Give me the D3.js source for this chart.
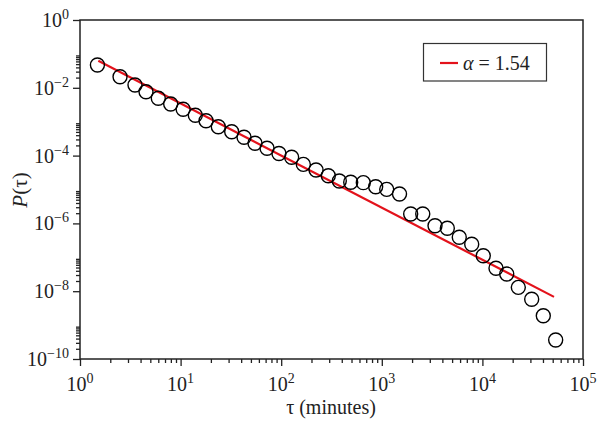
<!DOCTYPE html>
<html><head><meta charset="utf-8">
<script src="https://cdn.jsdelivr.net/npm/d3@7"></script>
<style>body{margin:0;background:#fff}</style>
</head><body>
<script>
// inter-event times (minutes) and their probability
const tau = [1.49, 2.5, 3.52, 4.53, 6.0, 7.97, 10.6, 14.0, 17.9, 23.7, 32.2, 42.7, 54.9, 72.3, 95,
  127, 166, 222, 294, 378, 491, 655, 869, 1119, 1500, 1937, 2553, 3380, 4480, 5890, 7830,
  10200, 13650, 17450, 22750, 30900, 40300, 53500];
const prob = [0.0471, 0.0212, 0.0121, 0.00767, 0.0049, 0.00333, 0.00232, 0.00155, 0.00107, 7.12e-4,
  5.07e-4, 3.47e-4, 2.31e-4, 1.64e-4, 1.15e-4, 8.9e-5, 5.5e-5, 3.76e-5, 2.55e-5, 1.78e-5, 1.63e-5,
  1.59e-5, 1.21e-5, 1.01e-5, 7.37e-6, 1.89e-6, 1.89e-6, 8.55e-7, 7.16e-7, 3.89e-7, 2.42e-7,
  1.11e-7, 4.74e-8, 3.21e-8, 1.30e-8, 5.77e-9, 1.89e-9, 3.63e-10];
// fitted power law, endpoints of the red line
const fitTau = [1.52, 51500];
const fitProb = [0.063, 6.8e-9];
const alphaLabel = '1.54';
const xTickExps = [0, 1, 2, 3, 4, 5];
const yTickExps = [0, -2, -4, -6, -8, -10];

const W = 609, H = 430;
const font = '"Liberation Serif", "DejaVu Serif", serif';

const svg = d3.select('body').append('svg')
  .attr('width', W)
  .attr('height', H)
  .style('font-family', font);

const x = d3.scaleLog().domain([1, 1e5]).range([80, 583]);
const y = d3.scaleLog().domain([1e-10, 1]).range([359, 20]);

const xMinor = [], yMinor = [];
xTickExps.slice(0, -1).forEach(e => { for (let k = 2; k <= 9; k++) xMinor.push(k * Math.pow(10, e)); });
yTickExps.slice(1).forEach(e => { for (let k = 2; k <= 9; k++) yMinor.push(k * Math.pow(10, e)); });

const styleAxis = g => {
  g.select('.domain').remove();
  g.selectAll('line').attr('stroke', '#222').attr('stroke-width', 1.3);
};

svg.append('g').attr('transform', 'translate(0,359)')
  .call(d3.axisBottom(x).tickValues(xMinor).tickSize(4).tickFormat(''))
  .call(styleAxis);
svg.append('g').attr('transform', 'translate(0,359)')
  .call(d3.axisBottom(x).tickValues(xTickExps.map(e => Math.pow(10, e))).tickSize(7).tickFormat(''))
  .call(styleAxis);
svg.append('g').attr('transform', 'translate(80,0)')
  .call(d3.axisLeft(y).tickValues(yMinor).tickSize(4).tickFormat(''))
  .call(styleAxis);
svg.append('g').attr('transform', 'translate(80,0)')
  .call(d3.axisLeft(y).tickValues(yTickExps.map(e => Math.pow(10, e))).tickSize(7).tickFormat(''))
  .call(styleAxis);

// frame
svg.append('rect')
  .attr('x', 80).attr('y', 20)
  .attr('width', 503).attr('height', 339)
  .attr('fill', 'none')
  .attr('stroke', '#222')
  .attr('stroke-width', 1.5);

// tick labels with superscripts
const xl = svg.append('g').selectAll('text')
  .data(xTickExps)
  .enter().append('text')
  .attr('x', d => x(Math.pow(10, d)))
  .attr('y', 391)
  .attr('text-anchor', 'middle')
  .attr('font-size', 20)
  .attr('fill', '#222');
xl.append('tspan').text('10');
xl.append('tspan').attr('dy', -8).attr('font-size', 14).text(d => d);

const yl = svg.append('g').selectAll('text')
  .data(yTickExps)
  .enter().append('text')
  .attr('x', 69)
  .attr('y', d => y(Math.pow(10, d)) + 7)
  .attr('text-anchor', 'end')
  .attr('font-size', 20)
  .attr('fill', '#222');
yl.append('tspan').text('10');
yl.append('tspan').attr('dy', -8).attr('font-size', 14).text(d => d === 0 ? '0' : '\u2212' + (-d));

// axis titles
svg.append('text')
  .attr('x', 331).attr('y', 414)
  .attr('text-anchor', 'middle')
  .attr('font-size', 20)
  .attr('fill', '#222')
  .text('\u03c4 (minutes)');

const yt = svg.append('text')
  .attr('transform', 'translate(27,190) rotate(-90)')
  .attr('text-anchor', 'middle')
  .attr('font-size', 21)
  .attr('fill', '#222');
yt.append('tspan').attr('font-style', 'italic').text('P');
yt.append('tspan').text('(\u03c4)');

// fit line
const line = d3.line().x(d => x(d[0])).y(d => y(d[1]));
svg.append('path')
  .attr('d', line(d3.zip(fitTau, fitProb)))
  .attr('fill', 'none')
  .attr('stroke', '#e3121b')
  .attr('stroke-width', 2.2);

// data circles
svg.append('g').selectAll('circle')
  .data(d3.zip(tau, prob))
  .enter().append('circle')
  .attr('cx', d => x(d[0]))
  .attr('cy', d => y(d[1]))
  .attr('r', 7)
  .attr('fill', 'none')
  .attr('stroke', '#000')
  .attr('stroke-width', 1.4);

// legend
const lg = svg.append('g');
lg.append('rect')
  .attr('x', 423.5).attr('y', 43.5)
  .attr('width', 123).attr('height', 37.5)
  .attr('fill', '#fff')
  .attr('stroke', '#333')
  .attr('stroke-width', 1.2);
lg.append('line')
  .attr('x1', 440).attr('x2', 458)
  .attr('y1', 63).attr('y2', 63)
  .attr('stroke', '#e3121b')
  .attr('stroke-width', 2.2);
const lt = lg.append('text')
  .attr('x', 463).attr('y', 70)
  .attr('font-size', 20)
  .attr('fill', '#222');
lt.append('tspan').attr('font-style', 'italic').text('\u03b1');
lt.append('tspan').text(' = ' + alphaLabel);
</script>
</body></html>
